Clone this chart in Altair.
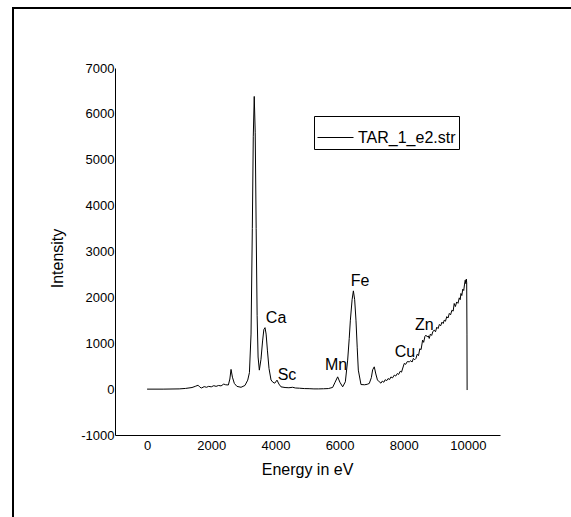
import altair as alt
import pandas as pd

# XRF spectrum: energy (eV) and counts
energy = [0, 500, 1000, 1200, 1400, 1500, 1590, 1650, 1700, 1780, 1850, 1920,
          2000, 2080, 2150, 2230, 2305, 2389, 2450, 2533, 2580, 2617, 2660, 2720,
          2800, 2928, 3050, 3137, 3190, 3240, 3280, 3310, 3340, 3370, 3400, 3430,
          3460, 3499, 3550, 3600, 3640, 3676, 3710, 3750, 3800, 3863, 3920, 3980,
          4050, 4110, 4174, 4300, 4420, 4538, 4620, 4750, 4900, 5050, 5200, 5350,
          5500, 5650, 5784, 5860, 5940, 6010, 6096, 6180, 6252, 6300, 6336, 6390,
          6430, 6470, 6511, 6550, 6584, 6667, 6780, 6860, 6926, 6990, 7030, 7081,
          7130, 7180, 7237, 7290, 7330, 7380, 7420, 7470, 7510, 7560, 7600, 7650,
          7705, 7750, 7800, 7840, 7890, 7930, 7970, 8016, 8060, 8110, 8172, 8220,
          8260, 8300, 8340, 8380, 8420, 8460, 8500, 8540, 8588, 8620, 8660, 8692,
          8730, 8765, 8795, 8830, 8870, 8910, 8951, 8990, 9030, 9070, 9110, 9150,
          9190, 9230, 9262, 9300, 9340, 9380, 9420, 9460, 9500, 9540, 9573, 9610,
          9650, 9690, 9730, 9760, 9782, 9810, 9840, 9870, 9895, 9916, 9935, 9950,
          9962, 9970, 9975]
intensity = [0, 0, 5, 15, 35, 60, 85, 40, 25, 55, 40, 60,
             50, 75, 60, 80, 70, 110, 95, 90, 220, 430, 260, 124,
             60, 40, 80, 196, 360, 1200, 3500, 5500, 6380, 5600, 3500, 1600,
             700, 414, 650, 1050, 1300, 1340, 1200, 850, 450, 200, 150, 130,
             196, 110, 50, 35, 30, 40, 25, 20, 12, 10, 5, 5,
             8, 12, 37, 150, 268, 150, 50, 160, 632, 1100, 1503, 1950,
             2142, 1950, 1503, 900, 414, 100, 95, 105, 124, 250, 420, 486,
             330, 200, 159, 130, 175, 150, 205, 185, 230, 210, 265, 245,
             305, 285, 340, 320, 390, 370, 460, 560, 540, 600, 595, 620,
             590, 669, 640, 669, 760, 730, 880, 860, 1068, 1020, 1150, 1176,
             1140, 1160, 1104, 1200, 1170, 1260, 1285, 1250, 1350, 1320, 1410, 1380,
             1460, 1430, 1503, 1480, 1580, 1550, 1650, 1620, 1720, 1700, 1867, 1800,
             1900, 1870, 1990, 1950, 2085, 2040, 2180, 2150, 2290, 2375, 2300, 2400,
             2320, 1200, -20]

series_name = "TAR_1_e2.str"

# element annotations and their anchor points
elements = ["Ca", "Sc", "Mn", "Fe", "Cu", "Zn"]
element_energy = [4020, 4360, 5890, 6640, 8040, 8640]
element_height = [1550, 300, 520, 2360, 810, 1390]

x_ticks = [0, 2000, 4000, 6000, 8000, 10000]
y_ticks = [-1000, 0, 1000, 2000, 3000, 4000, 5000, 6000, 7000]

spec = pd.DataFrame({"E": energy, "I": intensity, "series": series_name})
notes = pd.DataFrame({"label": elements, "E": element_energy, "I": element_height})

FONT = "Liberation Sans"

x_scale = alt.Scale(domain=[-1000, 11000], nice=False, zero=False)
y_scale = alt.Scale(domain=[-1000, 7000], nice=False, zero=False)

line = alt.Chart(spec).mark_line(strokeWidth=1, clip=True).encode(
    x=alt.X("E:Q", scale=x_scale,
            axis=alt.Axis(values=x_ticks, title="Energy in eV", titleX=192, titleY=34,
                          titleBaseline="middle", labelPadding=4,
                          labelExpr="'' + datum.value")),
    y=alt.Y("I:Q", scale=y_scale,
            axis=alt.Axis(values=y_ticks, title="Intensity", titleX=-58, titleY=190,
                          titleAngle=-90, titleBaseline="middle", titleAlign="center",
                          labelPadding=1, labelExpr="'' + datum.value")),
    color=alt.Color("series:N", scale=alt.Scale(range=["black"]),
                    legend=alt.Legend(title=None, orient="none", legendX=199, legendY=48,
                                      symbolType="stroke", symbolSize=1296,
                                      symbolStrokeWidth=1, labelFontSize=16,
                                      labelFont=FONT, labelColor="black",
                                      labelOffset=4, padding=3, strokeColor="black",
                                      symbolStrokeColor="black")),
)

labels = alt.Chart(notes).mark_text(font=FONT, fontSize=16, color="black",
                                    align="center", baseline="middle").encode(
    x=alt.X("E:Q", scale=x_scale),
    y=alt.Y("I:Q", scale=y_scale),
    text="label:N",
)

# outer page frame (left and top edges)
frame_left = alt.Chart(pd.DataFrame({"k": [0]})).mark_rule(color="black", strokeWidth=2).encode(
    x=alt.value(-102), y=alt.value(-60), y2=alt.value(470))
frame_top = alt.Chart(pd.DataFrame({"k": [0]})).mark_rule(color="black", strokeWidth=2).encode(
    x=alt.value(-103), x2=alt.value(480), y=alt.value(-60))

chart = alt.layer(line, labels, frame_left, frame_top).properties(
    width=385, height=367,
    autosize=alt.AutoSizeParams(type="none"),
    padding={"left": 115, "top": 68, "right": 71, "bottom": 82},
    background="white",
).configure_view(stroke=None).configure_axis(
    domainColor="black", domainWidth=1, ticks=False, grid=False,
    labelFont=FONT, labelFontSize=13, labelColor="black",
    titleFont=FONT, titleFontSize=16, titleFontWeight="normal", titleColor="black",
)

chart.save("out.html", embed_options={"renderer": "svg", "actions": False})
